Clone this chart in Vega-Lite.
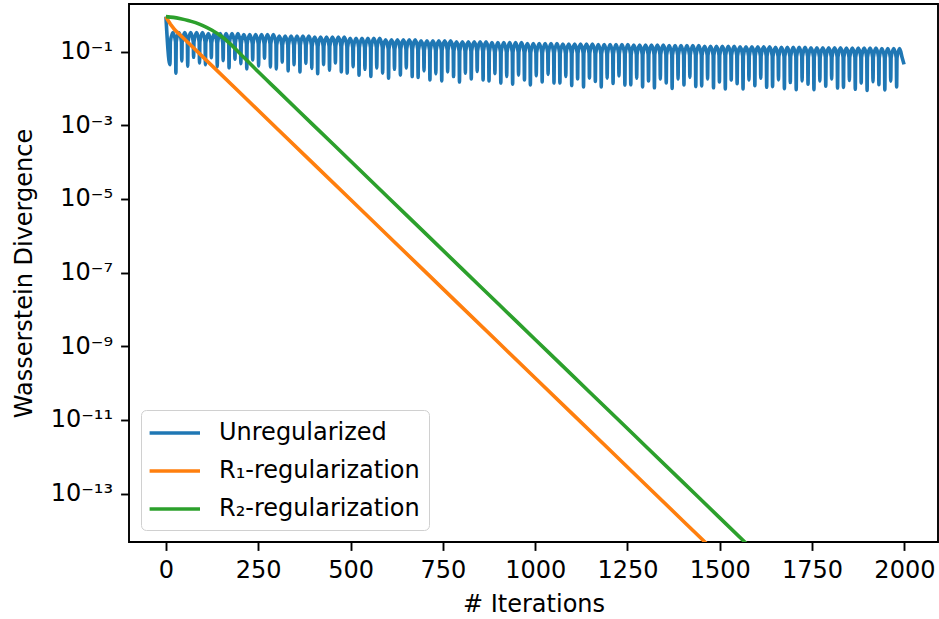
{
  "$schema": "https://vega.github.io/schema/vega-lite/v6.json",
  "width": 809,
  "height": 538,
  "autosize": {"type": "none"},
  "padding": {"left": 129, "top": 4, "right": 1, "bottom": 77},
  "background": "white",
  "config": {
    "font": "DejaVu Sans",
    "view": {"stroke": "black", "strokeWidth": 1.9}
  },
  "datasets": {
    "orange": [
      {"x":0,"y":0.89},{"x":5,"y":0.72},{"x":12,"y":0.56},{"x":24,"y":0.389},{"x":50,"y":0.22},{"x":100,"y":0.072},
      {"x":200,"y":7.75e-3},{"x":300,"y":8.32e-4},{"x":400,"y":8.93e-5},{"x":500,"y":9.59e-6},{"x":600,"y":1.03e-6},
      {"x":700,"y":1.107e-7},{"x":800,"y":1.189e-8},{"x":900,"y":1.276e-9},{"x":1000,"y":1.371e-10},{"x":1100,"y":1.472e-11},
      {"x":1200,"y":1.585e-12},{"x":1300,"y":1.702e-13},{"x":1400,"y":1.828e-14},{"x":1480,"y":3.07e-15}
    ],
    "green": [
      {"x":0,"y":0.891},{"x":20,"y":0.85},{"x":40,"y":0.78},{"x":60,"y":0.70},{"x":80,"y":0.61},{"x":100,"y":0.51},
      {"x":125,"y":0.38},{"x":150,"y":0.26},{"x":175,"y":0.16},{"x":200,"y":0.09},{"x":250,"y":0.0282},{"x":300,"y":9.25e-3},
      {"x":400,"y":9.93e-4},{"x":500,"y":1.067e-4},{"x":600,"y":1.146e-5},{"x":700,"y":1.23e-6},{"x":800,"y":1.321e-7},
      {"x":900,"y":1.419e-8},{"x":1000,"y":1.524e-9},{"x":1100,"y":1.637e-10},{"x":1200,"y":1.762e-11},{"x":1300,"y":1.892e-12},
      {"x":1400,"y":2.032e-13},{"x":1500,"y":2.183e-14},{"x":1600,"y":2.34e-15}
    ],
    "blue": [
      {"x":0,"y":0.89},
      {"x":11,"y":0.044},{"x":12,"y":0.185},{"x":19,"y":0.33},{"x":26,"y":0.185},
      {"x":27,"y":0.026},{"x":28,"y":0.185},{"x":35,"y":0.33},{"x":42,"y":0.185},
      {"x":43,"y":0.056},{"x":44,"y":0.185},{"x":51,"y":0.33},{"x":58,"y":0.185},
      {"x":59,"y":0.040},{"x":60,"y":0.185},{"x":67,"y":0.33},{"x":74,"y":0.185},
      {"x":75,"y":0.070},{"x":76,"y":0.185},{"x":83,"y":0.33},{"x":90,"y":0.185},
      {"x":91,"y":0.049},{"x":92,"y":0.185},{"x":99,"y":0.33},{"x":106,"y":0.185},
      {"x":107,"y":0.044},{"x":108,"y":0.175},{"x":115,"y":0.31},{"x":122,"y":0.175},
      {"x":123,"y":0.068},{"x":124,"y":0.175},{"x":131,"y":0.31},{"x":138,"y":0.175},
      {"x":139,"y":0.039},{"x":140,"y":0.175},{"x":147,"y":0.31},{"x":154,"y":0.175},
      {"x":155,"y":0.057},{"x":156,"y":0.175},{"x":163,"y":0.31},{"x":170,"y":0.175},
      {"x":171,"y":0.036},{"x":172,"y":0.175},{"x":179,"y":0.31},{"x":186,"y":0.175},
      {"x":187,"y":0.062},{"x":188,"y":0.175},{"x":195,"y":0.31},{"x":202,"y":0.175},
      {"x":203,"y":0.047},{"x":204,"y":0.163},{"x":211,"y":0.29},{"x":218,"y":0.163},
      {"x":219,"y":0.034},{"x":220,"y":0.163},{"x":227,"y":0.29},{"x":234,"y":0.163},
      {"x":235,"y":0.059},{"x":236,"y":0.163},{"x":243,"y":0.29},{"x":250,"y":0.163},
      {"x":251,"y":0.041},{"x":252,"y":0.163},{"x":259,"y":0.29},{"x":266,"y":0.163},
      {"x":267,"y":0.066},{"x":268,"y":0.163},{"x":275,"y":0.29},{"x":282,"y":0.163},
      {"x":283,"y":0.038},{"x":284,"y":0.163},{"x":291,"y":0.29},{"x":298,"y":0.163},
      {"x":299,"y":0.034},{"x":300,"y":0.15},{"x":307,"y":0.265},{"x":314,"y":0.15},
      {"x":315,"y":0.052},{"x":316,"y":0.15},{"x":323,"y":0.265},{"x":330,"y":0.15},
      {"x":331,"y":0.030},{"x":332,"y":0.15},{"x":339,"y":0.265},{"x":346,"y":0.15},
      {"x":347,"y":0.044},{"x":348,"y":0.15},{"x":355,"y":0.265},{"x":362,"y":0.15},
      {"x":363,"y":0.028},{"x":364,"y":0.15},{"x":371,"y":0.265},{"x":378,"y":0.15},
      {"x":379,"y":0.048},{"x":380,"y":0.15},{"x":387,"y":0.265},{"x":394,"y":0.15},
      {"x":395,"y":0.035},{"x":396,"y":0.14},{"x":403,"y":0.25},{"x":410,"y":0.14},
      {"x":411,"y":0.025},{"x":412,"y":0.14},{"x":419,"y":0.25},{"x":426,"y":0.14},
      {"x":427,"y":0.044},{"x":428,"y":0.14},{"x":435,"y":0.25},{"x":442,"y":0.14},
      {"x":443,"y":0.031},{"x":444,"y":0.14},{"x":451,"y":0.25},{"x":458,"y":0.14},
      {"x":459,"y":0.049},{"x":460,"y":0.14},{"x":467,"y":0.25},{"x":474,"y":0.14},
      {"x":475,"y":0.028},{"x":476,"y":0.14},{"x":483,"y":0.25},{"x":490,"y":0.14},
      {"x":491,"y":0.026},{"x":492,"y":0.13},{"x":499,"y":0.23},{"x":506,"y":0.13},
      {"x":507,"y":0.039},{"x":508,"y":0.13},{"x":515,"y":0.23},{"x":522,"y":0.13},
      {"x":523,"y":0.023},{"x":524,"y":0.13},{"x":531,"y":0.23},{"x":538,"y":0.13},
      {"x":539,"y":0.033},{"x":540,"y":0.13},{"x":547,"y":0.23},{"x":554,"y":0.13},
      {"x":555,"y":0.021},{"x":556,"y":0.13},{"x":563,"y":0.23},{"x":570,"y":0.13},
      {"x":571,"y":0.036},{"x":572,"y":0.13},{"x":579,"y":0.23},{"x":586,"y":0.13},
      {"x":587,"y":0.026},{"x":588,"y":0.118},{"x":595,"y":0.21},{"x":602,"y":0.118},
      {"x":603,"y":0.019},{"x":604,"y":0.118},{"x":611,"y":0.21},{"x":618,"y":0.118},
      {"x":619,"y":0.033},{"x":620,"y":0.118},{"x":627,"y":0.21},{"x":634,"y":0.118},
      {"x":635,"y":0.023},{"x":636,"y":0.118},{"x":643,"y":0.21},{"x":650,"y":0.118},
      {"x":651,"y":0.036},{"x":652,"y":0.118},{"x":659,"y":0.21},{"x":666,"y":0.118},
      {"x":667,"y":0.021},{"x":668,"y":0.118},{"x":675,"y":0.21},{"x":682,"y":0.118},
      {"x":683,"y":0.020},{"x":684,"y":0.11},{"x":691,"y":0.195},{"x":698,"y":0.11},
      {"x":699,"y":0.030},{"x":700,"y":0.11},{"x":707,"y":0.195},{"x":714,"y":0.11},
      {"x":715,"y":0.017},{"x":716,"y":0.11},{"x":723,"y":0.195},{"x":730,"y":0.11},
      {"x":731,"y":0.025},{"x":732,"y":0.11},{"x":739,"y":0.195},{"x":746,"y":0.11},
      {"x":747,"y":0.016},{"x":748,"y":0.11},{"x":755,"y":0.195},{"x":762,"y":0.11},
      {"x":763,"y":0.028},{"x":764,"y":0.11},{"x":771,"y":0.195},{"x":778,"y":0.11},
      {"x":779,"y":0.021},{"x":780,"y":0.104},{"x":787,"y":0.185},{"x":794,"y":0.104},
      {"x":795,"y":0.015},{"x":796,"y":0.104},{"x":803,"y":0.185},{"x":810,"y":0.104},
      {"x":811,"y":0.026},{"x":812,"y":0.104},{"x":819,"y":0.185},{"x":826,"y":0.104},
      {"x":827,"y":0.018},{"x":828,"y":0.104},{"x":835,"y":0.185},{"x":842,"y":0.104},
      {"x":843,"y":0.029},{"x":844,"y":0.104},{"x":851,"y":0.185},{"x":858,"y":0.104},
      {"x":859,"y":0.017},{"x":860,"y":0.104},{"x":867,"y":0.185},{"x":874,"y":0.104},
      {"x":875,"y":0.016},{"x":876,"y":0.098},{"x":883,"y":0.175},{"x":890,"y":0.098},
      {"x":891,"y":0.025},{"x":892,"y":0.098},{"x":899,"y":0.175},{"x":906,"y":0.098},
      {"x":907,"y":0.014},{"x":908,"y":0.098},{"x":915,"y":0.175},{"x":922,"y":0.098},
      {"x":923,"y":0.021},{"x":924,"y":0.098},{"x":931,"y":0.175},{"x":938,"y":0.098},
      {"x":939,"y":0.013},{"x":940,"y":0.098},{"x":947,"y":0.175},{"x":954,"y":0.098},
      {"x":955,"y":0.023},{"x":956,"y":0.098},{"x":963,"y":0.175},{"x":970,"y":0.098},
      {"x":971,"y":0.017},{"x":972,"y":0.093},{"x":979,"y":0.165},{"x":986,"y":0.093},
      {"x":987,"y":0.0125},{"x":988,"y":0.093},{"x":995,"y":0.165},{"x":1002,"y":0.093},
      {"x":1003,"y":0.022},{"x":1004,"y":0.093},{"x":1011,"y":0.165},{"x":1018,"y":0.093},
      {"x":1019,"y":0.015},{"x":1020,"y":0.093},{"x":1027,"y":0.165},{"x":1034,"y":0.093},
      {"x":1035,"y":0.024},{"x":1036,"y":0.093},{"x":1043,"y":0.165},{"x":1050,"y":0.093},
      {"x":1051,"y":0.014},{"x":1052,"y":0.093},{"x":1059,"y":0.165},{"x":1066,"y":0.093},
      {"x":1067,"y":0.014},{"x":1068,"y":0.09},{"x":1075,"y":0.16},{"x":1082,"y":0.09},
      {"x":1083,"y":0.021},{"x":1084,"y":0.09},{"x":1091,"y":0.16},{"x":1098,"y":0.09},
      {"x":1099,"y":0.012},{"x":1100,"y":0.09},{"x":1107,"y":0.16},{"x":1114,"y":0.09},
      {"x":1115,"y":0.018},{"x":1116,"y":0.09},{"x":1123,"y":0.16},{"x":1130,"y":0.09},
      {"x":1131,"y":0.011},{"x":1132,"y":0.09},{"x":1139,"y":0.16},{"x":1146,"y":0.09},
      {"x":1147,"y":0.019},{"x":1148,"y":0.09},{"x":1155,"y":0.16},{"x":1162,"y":0.09},
      {"x":1163,"y":0.0155},{"x":1164,"y":0.087},{"x":1171,"y":0.155},{"x":1178,"y":0.087},
      {"x":1179,"y":0.011},{"x":1180,"y":0.087},{"x":1187,"y":0.155},{"x":1194,"y":0.087},
      {"x":1195,"y":0.019},{"x":1196,"y":0.087},{"x":1203,"y":0.155},{"x":1210,"y":0.087},
      {"x":1211,"y":0.0136},{"x":1212,"y":0.087},{"x":1219,"y":0.155},{"x":1226,"y":0.087},
      {"x":1227,"y":0.022},{"x":1228,"y":0.087},{"x":1235,"y":0.155},{"x":1242,"y":0.087},
      {"x":1243,"y":0.0124},{"x":1244,"y":0.087},{"x":1251,"y":0.155},{"x":1258,"y":0.087},
      {"x":1259,"y":0.0126},{"x":1260,"y":0.084},{"x":1267,"y":0.15},{"x":1274,"y":0.084},
      {"x":1275,"y":0.019},{"x":1276,"y":0.084},{"x":1283,"y":0.15},{"x":1290,"y":0.084},
      {"x":1291,"y":0.011},{"x":1292,"y":0.084},{"x":1299,"y":0.15},{"x":1306,"y":0.084},
      {"x":1307,"y":0.016},{"x":1308,"y":0.084},{"x":1315,"y":0.15},{"x":1322,"y":0.084},
      {"x":1323,"y":0.0104},{"x":1324,"y":0.084},{"x":1331,"y":0.15},{"x":1338,"y":0.084},
      {"x":1339,"y":0.018},{"x":1340,"y":0.084},{"x":1347,"y":0.15},{"x":1354,"y":0.084},
      {"x":1355,"y":0.014},{"x":1356,"y":0.081},{"x":1363,"y":0.145},{"x":1370,"y":0.081},
      {"x":1371,"y":0.010},{"x":1372,"y":0.081},{"x":1379,"y":0.145},{"x":1386,"y":0.081},
      {"x":1387,"y":0.018},{"x":1388,"y":0.081},{"x":1395,"y":0.145},{"x":1402,"y":0.081},
      {"x":1403,"y":0.0124},{"x":1404,"y":0.081},{"x":1411,"y":0.145},{"x":1418,"y":0.081},
      {"x":1419,"y":0.020},{"x":1420,"y":0.081},{"x":1427,"y":0.145},{"x":1434,"y":0.081},
      {"x":1435,"y":0.0113},{"x":1436,"y":0.081},{"x":1443,"y":0.145},{"x":1450,"y":0.081},
      {"x":1451,"y":0.0117},{"x":1452,"y":0.079},{"x":1459,"y":0.14},{"x":1466,"y":0.079},
      {"x":1467,"y":0.018},{"x":1468,"y":0.079},{"x":1475,"y":0.14},{"x":1482,"y":0.079},
      {"x":1483,"y":0.0104},{"x":1484,"y":0.079},{"x":1491,"y":0.14},{"x":1498,"y":0.079},
      {"x":1499,"y":0.015},{"x":1500,"y":0.079},{"x":1507,"y":0.14},{"x":1514,"y":0.079},
      {"x":1515,"y":0.0097},{"x":1516,"y":0.079},{"x":1523,"y":0.14},{"x":1530,"y":0.079},
      {"x":1531,"y":0.0166},{"x":1532,"y":0.079},{"x":1539,"y":0.14},{"x":1546,"y":0.079},
      {"x":1547,"y":0.0135},{"x":1548,"y":0.076},{"x":1555,"y":0.135},{"x":1562,"y":0.076},
      {"x":1563,"y":0.0097},{"x":1564,"y":0.076},{"x":1571,"y":0.135},{"x":1578,"y":0.076},
      {"x":1579,"y":0.017},{"x":1580,"y":0.076},{"x":1587,"y":0.135},{"x":1594,"y":0.076},
      {"x":1595,"y":0.0119},{"x":1596,"y":0.076},{"x":1603,"y":0.135},{"x":1610,"y":0.076},
      {"x":1611,"y":0.019},{"x":1612,"y":0.076},{"x":1619,"y":0.135},{"x":1626,"y":0.076},
      {"x":1627,"y":0.0108},{"x":1628,"y":0.076},{"x":1635,"y":0.135},{"x":1642,"y":0.076},
      {"x":1643,"y":0.0112},{"x":1644,"y":0.073},{"x":1651,"y":0.13},{"x":1658,"y":0.073},
      {"x":1659,"y":0.017},{"x":1660,"y":0.073},{"x":1667,"y":0.13},{"x":1674,"y":0.073},
      {"x":1675,"y":0.0099},{"x":1676,"y":0.073},{"x":1683,"y":0.13},{"x":1690,"y":0.073},
      {"x":1691,"y":0.0145},{"x":1692,"y":0.073},{"x":1699,"y":0.13},{"x":1706,"y":0.073},
      {"x":1707,"y":0.0092},{"x":1708,"y":0.073},{"x":1715,"y":0.13},{"x":1722,"y":0.073},
      {"x":1723,"y":0.016},{"x":1724,"y":0.073},{"x":1731,"y":0.13},{"x":1738,"y":0.073},
      {"x":1739,"y":0.013},{"x":1740,"y":0.071},{"x":1747,"y":0.127},{"x":1754,"y":0.071},
      {"x":1755,"y":0.0093},{"x":1756,"y":0.071},{"x":1763,"y":0.127},{"x":1770,"y":0.071},
      {"x":1771,"y":0.016},{"x":1772,"y":0.071},{"x":1779,"y":0.127},{"x":1786,"y":0.071},
      {"x":1787,"y":0.0114},{"x":1788,"y":0.071},{"x":1795,"y":0.127},{"x":1802,"y":0.071},
      {"x":1803,"y":0.018},{"x":1804,"y":0.071},{"x":1811,"y":0.127},{"x":1818,"y":0.071},
      {"x":1819,"y":0.0103},{"x":1820,"y":0.071},{"x":1827,"y":0.127},{"x":1834,"y":0.071},
      {"x":1835,"y":0.0107},{"x":1836,"y":0.07},{"x":1843,"y":0.124},{"x":1850,"y":0.07},
      {"x":1851,"y":0.0164},{"x":1852,"y":0.07},{"x":1859,"y":0.124},{"x":1866,"y":0.07},
      {"x":1867,"y":0.0095},{"x":1868,"y":0.07},{"x":1875,"y":0.124},{"x":1882,"y":0.07},
      {"x":1883,"y":0.0139},{"x":1884,"y":0.07},{"x":1891,"y":0.124},{"x":1898,"y":0.07},
      {"x":1899,"y":0.0088},{"x":1900,"y":0.07},{"x":1907,"y":0.124},{"x":1914,"y":0.07},
      {"x":1915,"y":0.0151},{"x":1916,"y":0.07},{"x":1923,"y":0.124},{"x":1930,"y":0.07},
      {"x":1931,"y":0.0126},{"x":1932,"y":0.068},{"x":1939,"y":0.121},{"x":1946,"y":0.068},
      {"x":1947,"y":0.0091},{"x":1948,"y":0.068},{"x":1955,"y":0.121},{"x":1962,"y":0.068},
      {"x":1963,"y":0.0158},{"x":1964,"y":0.068},{"x":1971,"y":0.121},{"x":1978,"y":0.068},
      {"x":1979,"y":0.011},{"x":1980,"y":0.068},{"x":1987,"y":0.121},{"x":1994,"y":0.068},
      {"x":1999,"y":0.045}
    ]
  },
  "encoding": {
    "x": {
      "field": "x",
      "type": "quantitative",
      "scale": {"domain": [-100, 2091], "nice": false, "zero": false},
      "axis": {
        "title": "# Iterations",
        "values": [0, 250, 500, 750, 1000, 1250, 1500, 1750, 2000],
        "format": "d",
        "grid": false,
        "domain": false,
        "tickSize": 8.4,
        "tickWidth": 1.9,
        "tickColor": "black",
        "labelFontSize": 24,
        "labelColor": "black",
        "labelPadding": 8,
        "labelFlush": false,
        "labelOverlap": false,
        "titleFontSize": 24,
        "titleFontWeight": "normal",
        "titleColor": "black",
        "titlePadding": 10
      }
    },
    "y": {
      "field": "y",
      "type": "quantitative",
      "scale": {"type": "log", "domain": [4.82e-15, 1.96], "nice": false, "zero": false},
      "axis": {
        "title": "Wasserstein Divergence",
        "values": [1e-13, 1e-11, 1e-9, 1e-7, 1e-5, 1e-3, 1e-1],
        "labelExpr": "datum.value < 1e-12 ? '10⁻¹³' : datum.value < 1e-10 ? '10⁻¹¹' : datum.value < 1e-8 ? '10⁻⁹' : datum.value < 1e-6 ? '10⁻⁷' : datum.value < 1e-4 ? '10⁻⁵' : datum.value < 1e-2 ? '10⁻³' : '10⁻¹'",
        "grid": false,
        "domain": false,
        "tickSize": 8.4,
        "tickWidth": 1.9,
        "tickColor": "black",
        "labelFontSize": 24,
        "labelColor": "black",
        "labelPadding": 8,
        "labelOverlap": false,
        "titleFontSize": 24,
        "titleFontWeight": "normal",
        "titleColor": "black",
        "titlePadding": 14
      }
    }
  },
  "layer": [
    {
      "data": {"name": "blue"},
      "mark": {"type": "line", "clip": true, "strokeWidth": 3.6, "interpolate": "monotone", "strokeJoin": "round"},
      "encoding": {
        "color": {
          "datum": "Unregularized",
          "type": "nominal",
          "scale": {
            "domain": ["Unregularized", "R₁-regularization", "R₂-regularization"],
            "range": ["#1f77b4", "#ff7f0e", "#2ca02c"]
          },
          "legend": {
            "title": null,
            "orient": "bottom-left",
            "offset": 12,
            "padding": 9,
            "fillColor": "white",
            "strokeColor": "#d0d0d0",
            "cornerRadius": 5,
            "symbolType": "M-1.2,0H3",
            "symbolSize": 576,
            "symbolStrokeWidth": 3.6,
            "labelFontSize": 24,
            "labelColor": "black",
            "labelOffset": 41,
            "labelLimit": 500,
            "rowPadding": 12
          }
        }
      }
    },
    {
      "data": {"name": "orange"},
      "mark": {"type": "line", "clip": true, "strokeWidth": 3.6, "strokeJoin": "round"},
      "encoding": {"color": {"datum": "R₁-regularization", "type": "nominal"}}
    },
    {
      "data": {"name": "green"},
      "mark": {"type": "line", "clip": true, "strokeWidth": 3.6, "strokeJoin": "round", "interpolate": "monotone"},
      "encoding": {"color": {"datum": "R₂-regularization", "type": "nominal"}}
    }
  ]
}
